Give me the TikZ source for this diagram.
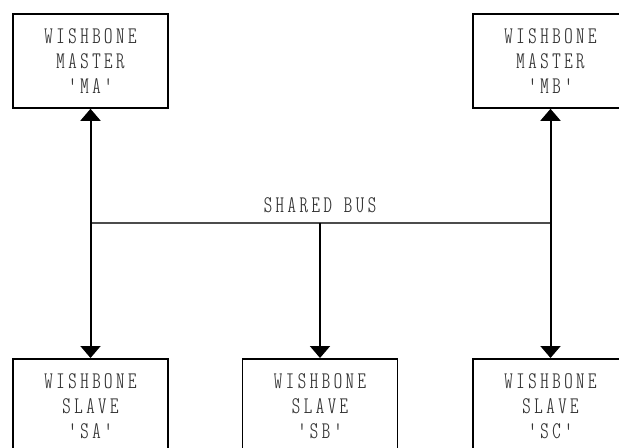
\documentclass[tikz,border=0pt]{standalone}
\usepackage{fontspec}
\usepackage{tikz}
\usetikzlibrary{arrows.meta}
\newfontfamily\wbfont[LetterSpace=15]{lmmonoltcond10-regular.otf}
\colorlet{wbtext}{black!80}

\tikzset{
  wbbox/.style={draw,line width=1.8bp,minimum width=155bp,minimum height=94bp,
    anchor=north,align=center,text=wbtext,
    font=\wbfont\fontsize{24}{25}\selectfont},
  wbline/.style={line width=2bp,-{Triangle[width=20bp,length=12bp]}},
}

\begin{document}
\begin{tikzpicture}[x=1bp,y=-1bp]
    \useasboundingbox (0,0) rectangle (619,448);
    % masters
    \node[wbbox] (ma) at (90.5,13) {WISHBONE\\MASTER\\'MA'};
    \node[wbbox] (mb) at (550.5,13) {WISHBONE\\MASTER\\'MB'};
    % slaves
    \node[wbbox] (sa) at (90.5,358) {WISHBONE\\SLAVE\\'SA'};
    \node[wbbox] (sb) at (320,358) {WISHBONE\\SLAVE\\'SB'};
    \node[wbbox] (sc) at (550.5,358) {WISHBONE\\SLAVE\\'SC'};
    % the bus
    \coordinate (busl) at (90.5,223);
    \coordinate (busm) at (320,223);
    \coordinate (busr) at (550.5,223);
    \draw[line width=1.6bp,black!70] (busl) -- (busr);
    \node[text=wbtext,font=\wbfont\fontsize{24}{25}\selectfont] (buslbl) at (320,205) {SHARED BUS};
    \draw[wbline,{Triangle[width=20bp,length=12bp]}-{Triangle[width=20bp,length=12bp]}] (ma) -- (sa);
    \draw[wbline,{Triangle[width=20bp,length=12bp]}-{Triangle[width=20bp,length=12bp]}] (mb) -- (sc);
    \draw[wbline] (busm) -- (sb);
  \end{tikzpicture}
\end{document}
